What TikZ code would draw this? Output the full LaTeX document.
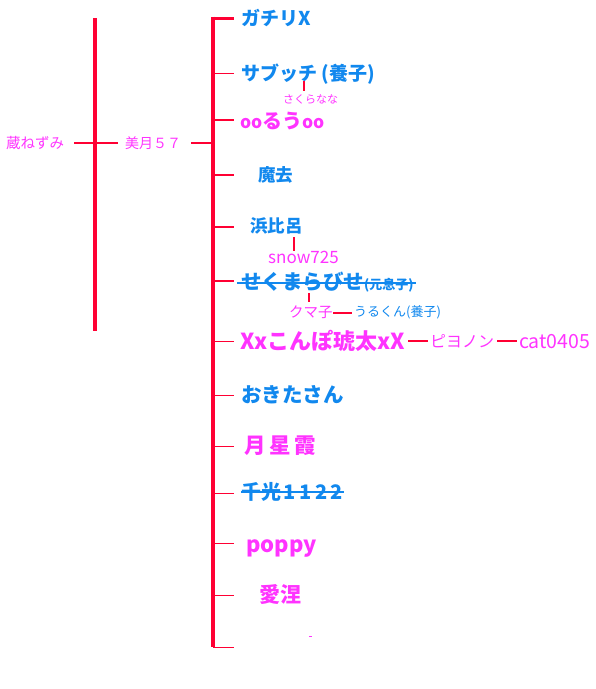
\documentclass[tikz,border=0pt]{standalone}
\usepackage{fontspec}
\setmainfont{Noto Sans CJK JP}
\definecolor{lnred}{HTML}{FF0033}
\definecolor{nmblue}{HTML}{1188EE}
\definecolor{nmpink}{HTML}{FF33FF}
\newcommand{\myfs}[1]{\fontsize{#1}{#1}\selectfont}
\tikzset{
  nm/.style={anchor=west, inner sep=0pt},
  sz/.style={font=\myfs{#1}, text height={0.88*#1pt}, text depth={0.12*#1pt}},
  bnm/.style={nm, text=nmblue},
  pnm/.style={nm, text=nmpink},
  ln/.style={draw=lnred, line width=#1},
  ln/.default=2pt,
}
\begin{document}
\begin{tikzpicture}[x=1pt,y=-1pt]
\useasboundingbox (0,0) rectangle (596,689);
% left generation
\node[pnm, sz=14.5] (n0) at (6,143) {蔵ねずみ};
\node[pnm, sz=14] (n1) at (125,143) {美月５７};
\coordinate (L1t) at (95,18);
\coordinate (L1b) at (95,331);
\draw[ln=4pt] (L1t) -- (L1b);
\coordinate (h1a) at (74,143);
\coordinate (h1b) at (118,143);
\draw[ln] (h1a) -- (h1b);
\coordinate (h2a) at (191,143);
\coordinate (h2b) at (213,143);
\draw[ln] (h2a) -- (h2b);
% main bar
\coordinate (R1t) at (213,16.5);
\coordinate (R1b) at (213,647);
\draw[ln=4pt] (R1t) -- (R1b);
% children
\node[bnm, sz=19] (c1) at (241,18) {\bfseries ガチリX};
\node[bnm, sz=19] (c2) at (241,73) {\bfseries サブッチ (養子)};
\node[pnm, sz=20] (c3) at (240,121) {\bfseries{\fontsize{17.5}{17.5}\selectfont oo}るう{\fontsize{17.5}{17.5}\selectfont oo}};
\node[bnm, sz=17.5] (c4) at (258,175) {\bfseries 魔去};
\node[bnm, sz=17.5] (c5) at (250,226) {\bfseries 浜比呂};
\node[bnm, sz=20.5] (c6) at (241,282) {\bfseries せくまらびせ{\fontsize{13}{13}\selectfont(元息子)}};
\node[pnm, sz=22] (c7) at (240,341) {\bfseries Xxこんぽ琥太xX};
\node[bnm, sz=20.5] (c8) at (241,395) {\bfseries おきたさん};
\node[pnm, sz=21.5] (c9) at (244,445) {\bfseries 月\hspace{4pt}星\hspace{3pt}霞};
\node[bnm, sz=20] (c10) at (241,492) {\bfseries 千光\hspace{2pt}1\hspace{4pt}1\hspace{4pt}2\hspace{3pt}2};
\node[pnm, sz=22] (c11) at (246,544) {\bfseries poppy};
\node[pnm, sz=21] (c12) at (259,595) {\bfseries 愛涅};
% branches
\foreach \yy/\ww in {18/3pt,73/1pt,120/2pt,175/2pt,227/2pt,281/2pt,341/1pt,395/1pt,446/1pt,493/1pt,543/1pt,595/1pt,647/1pt}{
  \draw[ln=\ww] (213,\yy) -- (234,\yy);
}
% strikethroughs
\draw[draw=nmblue, line width=2pt] ([xshift=-4pt,yshift=-1pt]c6.west) -- ([xshift=2pt,yshift=-1pt]c6.east);
\draw[draw=nmblue, line width=2pt] ([yshift=0pt]c10.west) -- ([xshift=1pt]c10.east);
% sub nodes
\node[pnm, sz=11] (s1) at (283,99) {さくらなな};
\node[pnm, sz=17] (s2) at (268,257) {snow725};
\node[pnm, sz=14.5] (s3) at (289,312) {クマ子};
\node[bnm, sz=13] (s4) at (354,312) {うるくん(養子)};
\node[pnm, sz=16] (s5) at (430,341) {ピヨノン};
\node[pnm, sz=19.5] (s6) at (519,341) {cat0405};
% connectors
\coordinate (k1a) at (304,81); \coordinate (k1b) at (304,91);
\draw[ln] (k1a) -- (k1b);
\coordinate (k2a) at (294,237); \coordinate (k2b) at (294,251);
\draw[ln] (k2a) -- (k2b);
\coordinate (k3a) at (309,293); \coordinate (k3b) at (309,302);
\draw[ln] (k3a) -- (k3b);
\coordinate (k4a) at (333,313); \coordinate (k4b) at (352,313);
\draw[ln] (k4a) -- (k4b);
\coordinate (k5a) at (408,341); \coordinate (k5b) at (428,341);
\draw[ln] (k5a) -- (k5b);
\coordinate (k6a) at (497,341); \coordinate (k6b) at (517,341);
\draw[ln] (k6a) -- (k6b);
% tiny mark
\coordinate (d1) at (309,636); \coordinate (d2) at (312,636);
\draw[draw=nmpink, line width=1pt] (d1) -- (d2);
\end{tikzpicture}
\end{document}
